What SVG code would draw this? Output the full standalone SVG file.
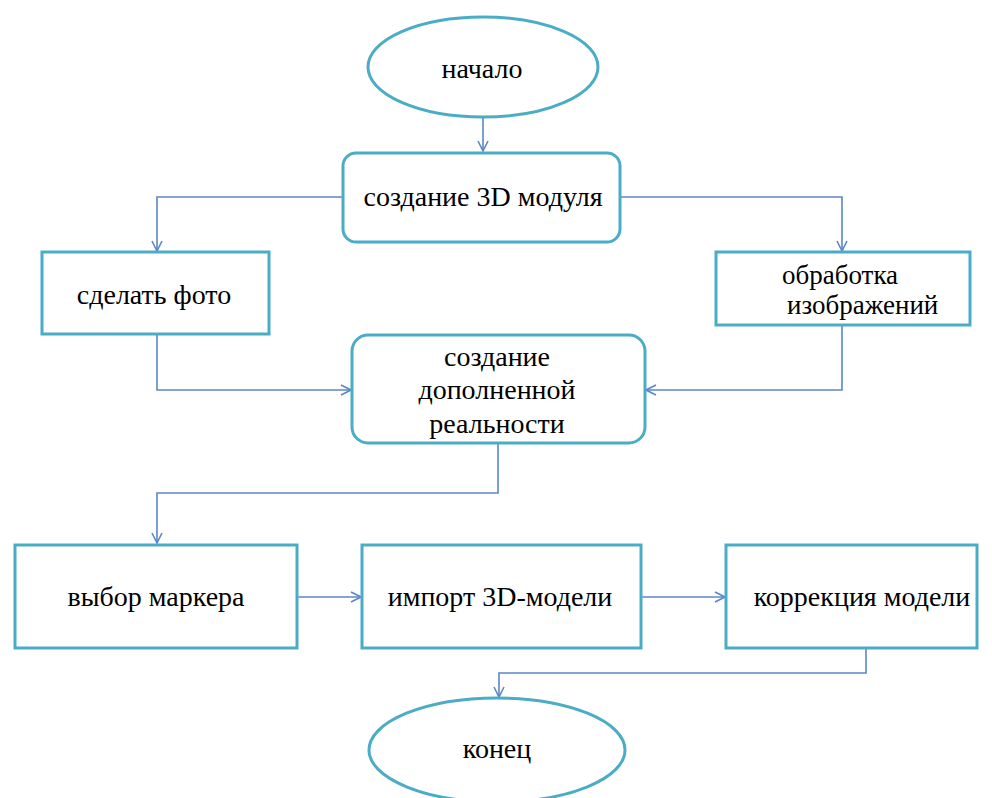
<svg xmlns="http://www.w3.org/2000/svg" width="992" height="798" viewBox="0 0 992 798">
<style>
.n{fill:#fff;stroke:#4BACC6;stroke-width:3}
.c{fill:none;stroke:#5B87C8;stroke-width:1.6}
.t{font-family:"Liberation Serif","DejaVu Serif",serif;font-size:28px;fill:#000;text-anchor:middle}
.s{text-anchor:start;font-size:27px}
</style>
<defs>
<marker id="a" viewBox="0 0 12 12" refX="11" refY="6" markerWidth="12" markerHeight="12" markerUnits="userSpaceOnUse" orient="auto">
<path d="M1,1 L11,6 L1,11" fill="none" stroke="#5B87C8" stroke-width="1.6"/>
</marker>
</defs>
<rect width="992" height="798" fill="#fff"/>
<g id="connectors">
<path class="c" d="M483,117 V151" marker-end="url(#a)"/>
<path class="c" d="M343,197 H157 V251" marker-end="url(#a)"/>
<path class="c" d="M620,197 H842 V251" marker-end="url(#a)"/>
<path class="c" d="M157,335 V390 H351" marker-end="url(#a)"/>
<path class="c" d="M842,326 V390 H646" marker-end="url(#a)"/>
<path class="c" d="M498,444 V493 H157 V543" marker-end="url(#a)"/>
<path class="c" d="M297,597 H361" marker-end="url(#a)"/>
<path class="c" d="M642,597 H725" marker-end="url(#a)"/>
<path class="c" d="M866,649 V673 H499 V697" marker-end="url(#a)"/>
</g>
<g id="start">
<ellipse class="n" cx="483" cy="67" rx="115" ry="50"/>
<text class="t" x="482" y="78">начало</text>
</g>
<g id="create3d">
<rect class="n" x="343" y="153" width="277" height="89" rx="13"/>
<text class="t" x="483" y="206">создание 3D модуля</text>
</g>
<g id="photo">
<rect class="n" x="42" y="252" width="227" height="82"/>
<text class="t" x="154" y="304">сделать фото</text>
</g>
<g id="process">
<rect class="n" x="716" y="252" width="254" height="73"/>
<text class="t s" x="782" y="284">обработка</text>
<text class="t s" x="787" y="314">изображений</text>
</g>
<g id="ar">
<rect class="n" x="352" y="335" width="293" height="108" rx="16"/>
<text class="t" x="497" y="366">создание</text>
<text class="t" x="497" y="399">дополненной</text>
<text class="t" x="497" y="433">реальности</text>
</g>
<g id="marker">
<rect class="n" x="15" y="545" width="282" height="103"/>
<text class="t" x="156" y="606">выбор маркера</text>
</g>
<g id="import">
<rect class="n" x="362" y="545" width="279" height="103"/>
<text class="t" x="500" y="606">импорт 3D-модели</text>
</g>
<g id="correct">
<rect class="n" x="726" y="545" width="251" height="103"/>
<text class="t" x="862" y="606">коррекция модели</text>
</g>
<g id="end">
<ellipse class="n" cx="497" cy="750" rx="128" ry="52"/>
<text class="t" x="497" y="758">конец</text>
</g>
</svg>
